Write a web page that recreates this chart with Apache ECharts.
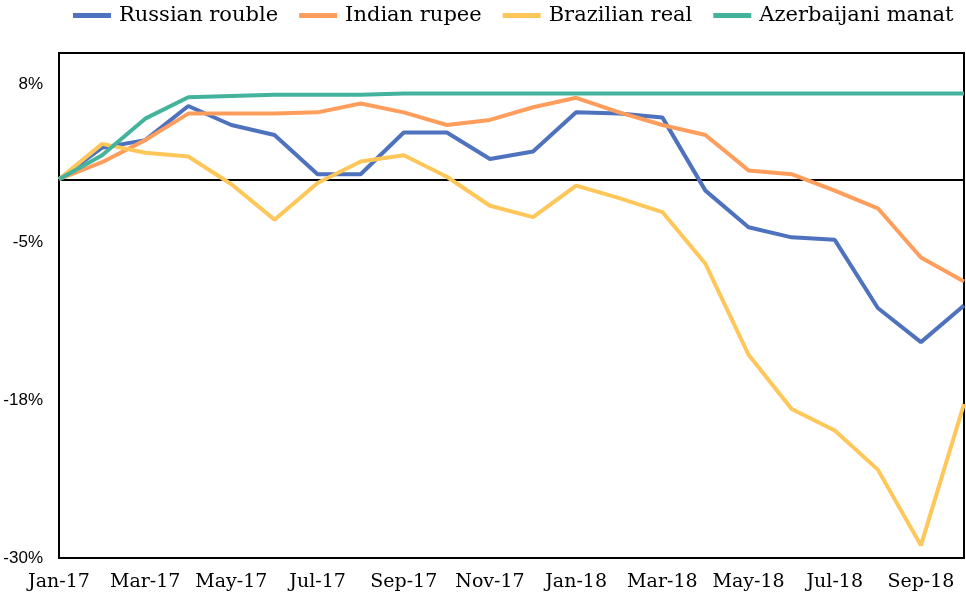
<!DOCTYPE html>
<html>
<head>
<meta charset="utf-8">
<script src="https://cdn.jsdelivr.net/npm/echarts@6/dist/echarts.min.js"></script>
<style>
  html, body { margin: 0; padding: 0; background: #fff; }
  #chart { width: 966px; height: 597px; }
</style>
</head>
<body>
<div id="chart"></div>
<script>
// meses, ene-17 a oct-18
var months = ['Jan-17', 'Feb-17', 'Mar-17', 'Apr-17', 'May-17', 'Jun-17', 'Jul-17', 'Aug-17', 'Sep-17', 'Oct-17', 'Nov-17', 'Dec-17',
    'Jan-18', 'Feb-18', 'Mar-18', 'Apr-18', 'May-18', 'Jun-18', 'Jul-18', 'Aug-18', 'Sep-18', 'Oct-18'];

var rouble = [0, 2.5, 3.1, 5.8, 4.3, 3.5, 0.4, 0.4, 3.7, 3.7, 1.6, 2.2, 5.3, 5.2, 4.9, -0.9, -3.8, -4.6, -4.8, -10.2, -12.9, -10.0];
var rupee = [0, 1.35, 3.1, 5.2, 5.2, 5.2, 5.3, 6.0, 5.3, 4.3, 4.7, 5.7, 6.45, 5.3, 4.3, 3.5, 0.7, 0.4, -0.9, -2.3, -6.2, -8.1];
var real = [0, 2.8, 2.1, 1.8, -0.4, -3.2, -0.3, 1.4, 1.9, 0.2, -2.1, -3.0, -0.5, -1.5, -2.6, -6.7, -13.9, -18.2, -19.9, -23.0, -29.0, -17.8];
var manat = [0, 1.9, 4.8, 6.5, 6.6, 6.7, 6.7, 6.7, 6.8, 6.8, 6.8, 6.8, 6.8, 6.8, 6.8, 6.8, 6.8, 6.8, 6.8, 6.8, 6.8, 6.8];

// ticks del eje y (cada 12.5, etiquetas redondeadas)
var yTicks = [-30, -17.5, -5, 7.5];
var yTickLabels = ['-30%', '-18%', '-5%', '8%'];

var seriesDefs = [
    { name: 'Russian rouble', color: '#4F72BE', data: rouble },
    { name: 'Indian rupee', color: '#FF9E5C', data: rupee },
    { name: 'Brazilian real', color: '#FFC75A', data: real },
    { name: 'Azerbaijani manat', color: '#43B39E', data: manat }
];

var chart = echarts.init(document.getElementById('chart'));

var series = seriesDefs.map(function (s, i) {
    var obj = {
        name: s.name,
        type: 'line',
        data: s.data,
        symbol: 'none',
        smooth: false,
        lineStyle: { color: s.color, width: 4 },
        itemStyle: { color: s.color },
        z: 3
    };
    if (i === 0) {
        // linea del cero
        obj.markLine = {
            silent: true,
            symbol: 'none',
            label: { show: false },
            lineStyle: { color: '#000', width: 2, type: 'solid' },
            data: [{ yAxis: 0 }],
            z: 1
        };
    }
    return obj;
});

var option = {
    animation: false,
    color: seriesDefs.map(function (s) { return s.color; }),
    legend: {
        top: 0,
        left: 68,
        itemWidth: 38,
        itemHeight: 5,
        itemGap: 21,
        data: seriesDefs.map(function (s) { return { name: s.name, icon: 'rect' }; }),
        textStyle: { fontFamily: 'DejaVu Serif', fontSize: 21, color: '#000', padding: [0, 0, 0, 3] }
    },
    grid: {
        left: 59, right: 2, top: 53, bottom: 39,
        show: true,
        borderColor: '#000',
        borderWidth: 2,
        containLabel: false
    },
    xAxis: {
        type: 'category',
        data: months,
        boundaryGap: false,
        axisLine: { show: false, onZero: false },
        axisTick: { show: false },
        splitLine: { show: false },
        axisLabel: {
            interval: 1,
            margin: 15,
            color: '#000',
            fontFamily: 'DejaVu Serif',
            fontSize: 19
        }
    },
    yAxis: {
        type: 'value',
        min: -30,
        max: 10,
        axisLine: { show: false },
        axisTick: { show: false },
        splitLine: { show: false },
        axisLabel: {
            customValues: yTicks,
            margin: 16,
            color: '#000',
            fontFamily: 'Liberation Sans',
            fontSize: 17,
            formatter: function (v) {
                var idx = yTicks.indexOf(v);
                return idx >= 0 ? yTickLabels[idx] : '';
            }
        }
    },
    series: series
};

chart.setOption(option);
</script>
</body>
</html>
